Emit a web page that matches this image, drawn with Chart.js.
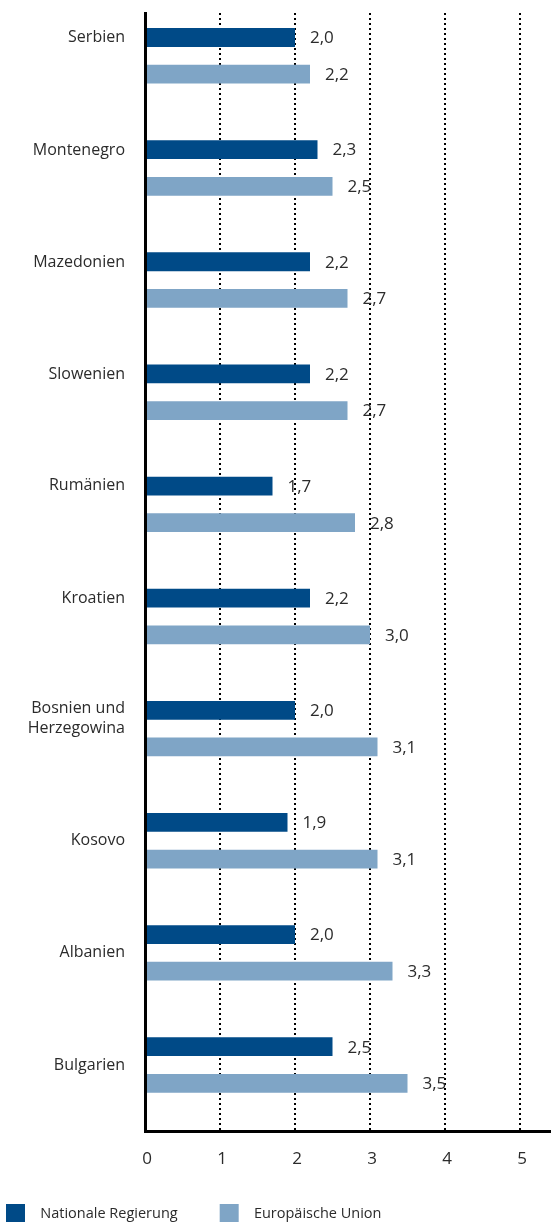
<!DOCTYPE html>
<html lang="de">
<head>
<meta charset="utf-8">
<title>Nationale Regierung und Europäische Union</title>
<script src="https://cdn.jsdelivr.net/npm/chart.js@4.4.1/dist/chart.umd.min.js"></script>
<style>
  html, body { margin: 0; padding: 0; background: #ffffff; }
  #wrap { position: relative; width: 551px; height: 1222px; }
</style>
</head>
<body>
<div id="wrap"><canvas id="chart"></canvas></div>
<script>
// Countries, top to bottom
const categories = [
  'Serbien', 'Montenegro', 'Mazedonien', 'Slowenien', 'Rumänien',
  'Kroatien', ['Bosnien und', 'Herzegowina'], 'Kosovo', 'Albanien', 'Bulgarien'
];
// Average scores per country
const nationaleRegierung = [2.0, 2.3, 2.2, 2.2, 1.7, 2.2, 2.0, 1.9, 2.0, 2.5];
const europaeischeUnion  = [2.2, 2.5, 2.7, 2.7, 2.8, 3.0, 3.1, 3.1, 3.3, 3.5];
const seriesNames = ['Nationale Regierung', 'Europäische Union'];
const xTickValues = [0, 1, 2, 3, 4, 5];

// Layout / style
const FONT = '"Open Sans", "Noto Sans", sans-serif';
const TEXT = '#2b2b2b';
const DARK = '#004a87';
const LIGHT = '#7fa5c6';
// Country names sit a little above the centre of their bar pair in the upper rows
const tickLift = [0.16, 0.16, 0.16, 0.16, 0.17, 0.16, 0.09, 0, 0, 0];

const fmt = v => v.toFixed(1).replace('.', ',');

// Legend swatch: square placed inside a wider transparent image
function swatch(color) {
  const c = document.createElement('canvas');
  c.width = 51; c.height = 19;
  const g = c.getContext('2d');
  g.fillStyle = color;
  g.fillRect(28, 0, 19, 19);
  return c;
}

// Writes each bar's value just past its end
const valueLabels = {
  id: 'valueLabels',
  afterDatasetsDraw(chart) {
    const ctx = chart.ctx;
    ctx.save();
    ctx.font = '17px ' + FONT;
    ctx.fillStyle = TEXT;
    ctx.textAlign = 'left';
    ctx.textBaseline = 'middle';
    chart.data.datasets.forEach((ds, di) => {
      chart.getDatasetMeta(di).data.forEach((bar, i) => {
        ctx.fillText(fmt(ds.data[i].x), bar.x + 15, bar.y + 1);
      });
    });
    ctx.restore();
  }
};

const toPoints = values => values.map((v, i) => ({ x: v, y: i }));

new Chart(document.getElementById('chart'), {
  type: 'bar',
  data: {
    datasets: [
      { label: seriesNames[0], data: toPoints(nationaleRegierung), backgroundColor: DARK },
      { label: seriesNames[1], data: toPoints(europaeischeUnion), backgroundColor: LIGHT }
    ]
  },
  plugins: [valueLabels],
  options: {
    indexAxis: 'y',
    responsive: true,
    maintainAspectRatio: false,
    animation: false,
    categoryPercentage: 0.66,
    barPercentage: 0.5135,
    layout: { padding: { top: 13, left: -36, right: 0, bottom: -9 } },
    scales: {
      x: {
        type: 'linear',
        position: 'bottom',
        min: 0,
        max: 406 / 75,
        afterBuildTicks: s => { s.ticks = xTickValues.map(v => ({ value: v })); },
        afterFit: s => { s.height = 65; },
        ticks: { color: TEXT, font: { family: FONT, size: 17 }, padding: 17, labelOffset: 2, callback: v => String(v) },
        grid: {
          drawTicks: false,
          lineWidth: 2,
          color: c => (c.tick && c.tick.value === 0) ? 'rgba(0,0,0,0)' : '#000000'
        },
        border: { display: true, color: '#000000', width: 3, dash: [2, 3], z: 1 }
      },
      y: {
        type: 'linear',
        reverse: true,
        offset: false,
        bounds: 'data',
        min: -0.382,
        max: 9.593,
        afterBuildTicks: s => { s.ticks = categories.map((_, i) => ({ value: i - tickLift[i] })); },
        afterFit: s => { s.width = 181; s.paddingTop = 0; s.paddingBottom = 0; },
        ticks: {
          autoSkip: false,
          color: TEXT,
          font: { family: FONT, size: 16 },
          padding: 20,
          callback: (v, i) => categories[i]
        },
        grid: { display: false, drawTicks: false, offset: false },
        border: { display: true, color: '#000000', width: 3, z: 1 }
      }
    },
    plugins: {
      tooltip: { enabled: false },
      legend: {
        position: 'bottom',
        align: 'start',
        labels: {
          usePointStyle: true,
          pointStyleWidth: 59,
          padding: 10,
          color: TEXT,
          font: { family: FONT, size: 14.5 },
          generateLabels: chart => chart.data.datasets.map((ds, i) => ({
            text: ds.label,
            fillStyle: ds.backgroundColor,
            strokeStyle: ds.backgroundColor,
            lineWidth: 0,
            pointStyle: swatch(ds.backgroundColor),
            fontColor: TEXT,
            hidden: false,
            datasetIndex: i
          }))
        }
      }
    }
  }
});
</script>
</body>
</html>
